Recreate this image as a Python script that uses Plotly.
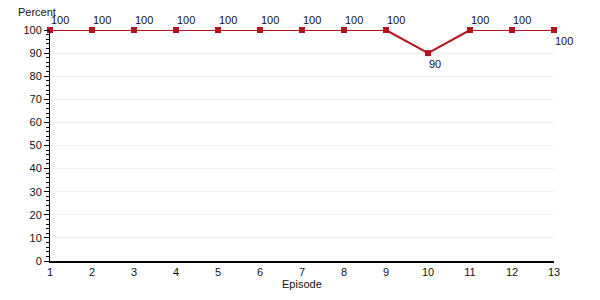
import plotly.graph_objects as go

episodes = list(range(1, 14))
percent = [100, 100, 100, 100, 100, 100, 100, 100, 100, 90, 100, 100, 100]
label_below = [False] * 9 + [True] + [False] * 2 + [True]

FONT = "Liberation Sans, Arial, sans-serif"
TXT = "#111"
fig = go.Figure()
fig.add_trace(go.Scatter(
    x=episodes, y=percent, mode="lines+markers",
    line=dict(color="#b5121b", width=2),
    marker=dict(symbol="square", size=6, color="#b5121b"),
    cliponaxis=False, showlegend=False,
))
annotations = []
for x, y, below in zip(episodes, percent, label_below):
    annotations.append(dict(
        x=x, y=y, xref="x", yref="y", text=str(y), showarrow=False,
        xanchor="left", xshift=-1,
        yanchor="top" if below else "bottom", yshift=-3 if below else 2,
        font=dict(family=FONT, size=11, color=TXT),
    ))
annotations.append(dict(text="Percent", x=0, xref="paper", y=1, yref="paper",
                        xanchor="right", yanchor="bottom", xshift=8, yshift=10, showarrow=False,
                        font=dict(family=FONT, size=11, color=TXT)))
annotations.append(dict(text="Episode", x=0.5, xref="paper", y=0, yref="paper",
                        xanchor="center", yanchor="top", yshift=-15, showarrow=False,
                        font=dict(family=FONT, size=11, color=TXT)))

fig.update_layout(
    width=600, height=300,
    margin=dict(l=50, r=46, t=30, b=39),
    plot_bgcolor="white", paper_bgcolor="white",
    font=dict(family=FONT, size=11, color=TXT),
    xaxis=dict(range=[1, 13], tickmode="array", tickvals=episodes,
               showgrid=False, zeroline=False, showline=True, linecolor="black", linewidth=1.5,
               ticks="", fixedrange=True),
    yaxis=dict(range=[0, 100], tickmode="linear", tick0=0, dtick=10,
               showgrid=True, gridcolor="#efefef", gridwidth=1, zeroline=False,
               showline=True, linecolor="black", linewidth=1,
               ticks="outside", ticklen=5, tickcolor="black",
               minor=dict(dtick=2, ticks="outside", ticklen=3, tickcolor="black", showgrid=False),
               fixedrange=True),
    annotations=annotations,
)
fig.write_html("out.html")
